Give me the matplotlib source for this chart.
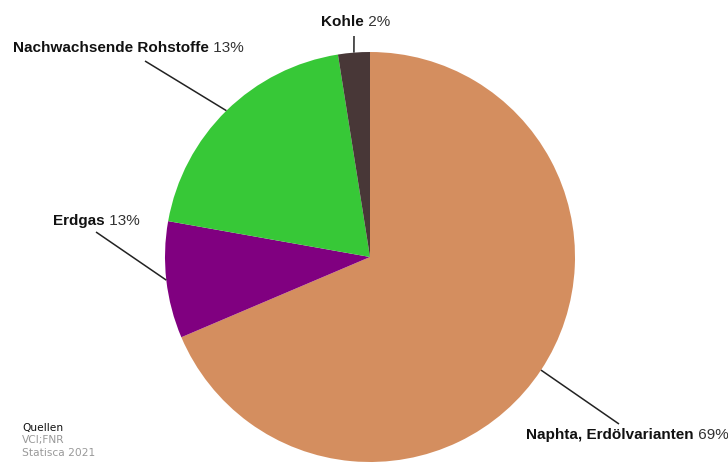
import numpy as np
import matplotlib
matplotlib.use('Agg')
import matplotlib.pyplot as plt


# slice sizes as drawn (degrees, in percent)
names = ["Naphta, Erdölvarianten", "Erdgas", "Nachwachsende Rohstoffe", "Kohle"]
shares = [68.6, 9.2, 19.7, 2.5]
pct_labels = ["69%", "13%", "13%", "2%"]
colors = ["#D48E5F", "#800080", "#37C837", "#483737"]

source_lines = ["Quellen", "VCI;FNR", "Statisca 2021"]

W, H = 728, 463
center = (370, H - 257)
radius = 205
# label left edge / vertical middle, and outer end of leader line (pixels, y down)
label_pos = [(526, 435), (53, 221), (13, 48), (321, 22)]
line_end = [(619, 424), (96, 232), (145, 61), (354, 36)]


fig = plt.figure(figsize=(W / 100, H / 100), dpi=100)
ax = fig.add_axes([0, 0, 1, 1])
ax.set_xlim(0, W)
ax.set_ylim(0, H)
ax.set_aspect("equal")
ax.axis("off")

wedges, _ = ax.pie(shares, colors=colors, center=center, radius=radius,
                   startangle=90, counterclock=False,
                   wedgeprops=dict(linewidth=0))
ax.set_xlim(0, W)
ax.set_ylim(0, H)

plt.rcParams['font.family'] = ['Liberation Sans', 'DejaVu Sans']

for w, name, pct, (lx, ly), (ex, ey) in zip(wedges, names, pct_labels, label_pos, line_end):
    mid = np.deg2rad((w.theta1 + w.theta2) / 2)
    sx = center[0] + radius * np.cos(mid)
    sy = center[1] + radius * np.sin(mid)
    ax.plot([sx, ex], [sy, H - ey], color="#222222", lw=1.1, solid_capstyle="butt")
    t = ax.text(lx, H - ly, name, fontsize=11, fontweight="bold", color="#111111",
                va="center", ha="left")
    ax.annotate(" " + pct, xy=(1, 0.5), xycoords=t, va="center", ha="left",
                fontsize=11, color="#333333")

src_y = [428, 440.5, 453]
src_col = ["#111111", "#999999", "#999999"]
for s, y, c in zip(source_lines, src_y, src_col):
    ax.text(22, H - y, s, fontsize=7.7, family="DejaVu Sans", color=c, va="center")

plt.savefig("out.png", dpi=100)
plt.close()
